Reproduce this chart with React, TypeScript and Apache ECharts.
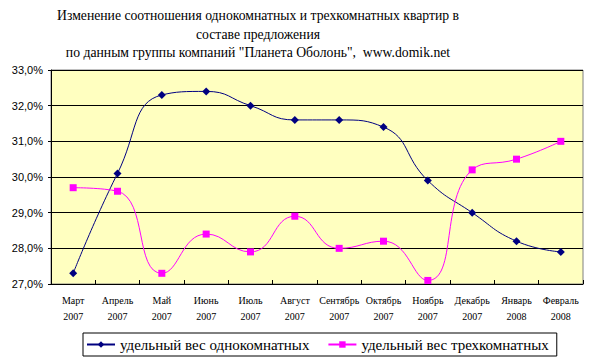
import React, { useEffect, useRef } from "react";
import * as echarts from "echarts";

const months = ["Март", "Апрель", "Май", "Июнь", "Июль", "Август", "Сентябрь", "Октябрь", "Ноябрь", "Декабрь", "Январь", "Февраль"];
const years = ["2007", "2007", "2007", "2007", "2007", "2007", "2007", "2007", "2007", "2007", "2008", "2008"];
const oneRoom = [27.3, 30.1, 32.3, 32.4, 32.0, 31.6, 31.6, 31.4, 29.9, 29.0, 28.2, 27.9];
const threeRoom = [29.7, 29.6, 27.3, 28.4, 27.9, 28.9, 28.0, 28.2, 27.1, 30.2, 30.5, 31.0];
const titleLines = [
  "Изменение соотношения однокомнатных и трехкомнатных квартир в",
  "составе предложения",
  "по данным группы компаний \"Планета Оболонь\",  www.domik.net",
];
const seriesNames = ["удельный вес однокомнатных", "удельный вес трехкомнатных"];

export default function App() {
  const ref = useRef<HTMLDivElement>(null);
  useEffect(() => {
    if (!ref.current) return;
    const chart = echarts.init(ref.current, null, { renderer: "svg" });
    const serif = "Liberation Serif";
    const sans = "Liberation Sans";
    chart.setOption({
      animation: false,
      backgroundColor: "#ffffff",
      graphic: titleLines.map((t, i) => ({
        type: "text",
        x: 258,
        y: [15, 34, 52][i],
        style: {
          text: t,
          fill: "#000",
          fontFamily: serif,
          fontSize: 13.7,
          textAlign: "center",
          textVerticalAlign: "middle",
        },
      })),
      grid: {
        left: 51,
        right: 22,
        top: 70,
        bottom: 76,
        show: true,
        backgroundColor: "#FFFFC0",
        borderColor: "#808080",
        borderWidth: 1,
      },
      legend: {
        left: 83,
        top: 333,
        padding: [4, 8, 4, 3],
        itemWidth: 28,
        itemHeight: 8,
        itemGap: 18,
        borderColor: "#000",
        borderWidth: 1,
        textStyle: { fontFamily: serif, fontSize: 15, color: "#000" },
        data: seriesNames,
      },
      xAxis: {
        type: "category",
        data: months.map((m, i) => `${m}\n${years[i]}`),
        boundaryGap: true,
        axisLine: { lineStyle: { color: "#000", width: 1 } },
        axisTick: { show: true, inside: true, length: 4, lineStyle: { color: "#000" } },
        axisLabel: {
          fontFamily: serif,
          fontSize: 10,
          lineHeight: 16,
          color: "#000",
          margin: 8,
          interval: 0,
        },
      },
      yAxis: {
        type: "value",
        min: 27,
        max: 33,
        interval: 1,
        axisLine: { show: true, lineStyle: { color: "#000" } },
        axisTick: { show: true, length: 3, lineStyle: { color: "#000" } },
        splitLine: { lineStyle: { color: "#000", width: 1 } },
        axisLabel: {
          fontFamily: sans,
          fontSize: 11,
          color: "#000",
          margin: 8,
          formatter: (v: number) => v.toFixed(1).replace(".", ",") + "%",
        },
      },
      series: [
        {
          name: seriesNames[0],
          type: "line",
          data: oneRoom,
          smooth: 0.5,
          symbol: "diamond",
          symbolSize: 8,
          itemStyle: { color: "#000080" },
          lineStyle: { color: "#000080", width: 1 },
        },
        {
          name: seriesNames[1],
          type: "line",
          data: threeRoom,
          smooth: 0.5,
          symbol: "rect",
          symbolSize: 7,
          itemStyle: { color: "#FF00FF" },
          lineStyle: { color: "#FF00FF", width: 1 },
        },
      ],
    });
    return () => chart.dispose();
  }, []);
  return <div ref={ref} style={{ width: 605, height: 360, position: "absolute", left: 0, top: 0 }} />;
}
